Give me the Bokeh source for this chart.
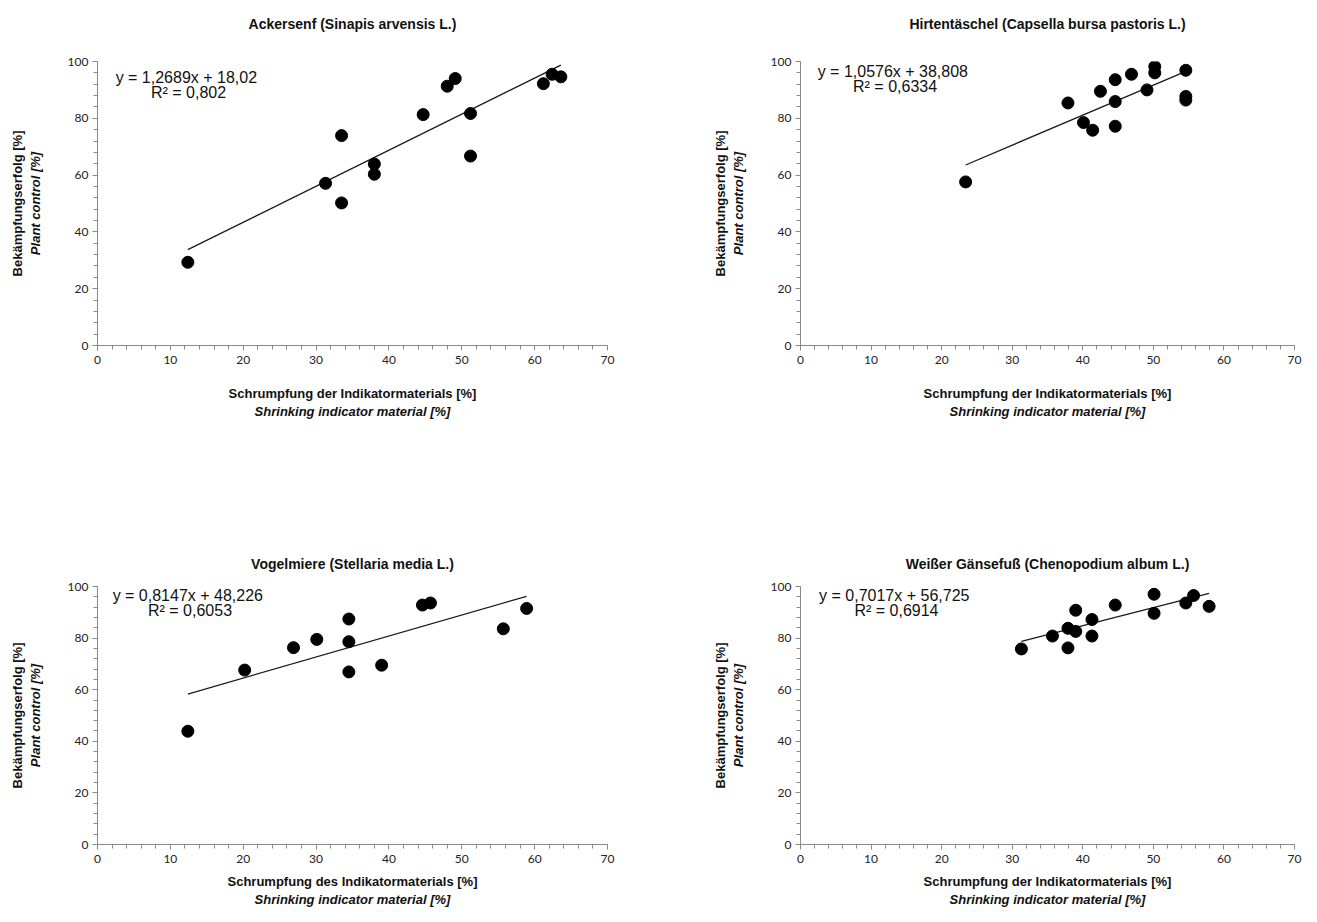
from bokeh.plotting import figure
from bokeh.models import Range1d, LinearAxis, SingleIntervalTicker, FixedTicker, ColumnDataSource
from bokeh.layouts import gridplot
from bokeh.embed import file_html
from bokeh.resources import INLINE
from bokeh.core.properties import value

# ---------------- data ----------------
titles = [
    "Ackersenf (Sinapis arvensis L.)",
    "Hirtentäschel (Capsella bursa pastoris L.)",
    "Vogelmiere (Stellaria media L.)",
    "Weißer Gänsefuß (Chenopodium album L.)",
]

x_ackersenf = [12.4, 31.3, 33.5, 33.5, 38.0, 38.0, 44.7, 48.0, 49.1, 51.2, 51.2, 61.2, 62.4, 63.6]
y_ackersenf = [29.3, 57.1, 73.9, 50.2, 63.9, 60.3, 81.3, 91.3, 94.0, 81.7, 66.7, 92.2, 95.5, 94.6]

x_hirtentaeschel = [23.4, 37.9, 40.1, 41.4, 42.5, 44.6, 44.6, 44.6, 46.9, 49.1, 50.2, 50.2, 54.6, 54.6, 54.6]
y_hirtentaeschel = [57.6, 85.4, 78.5, 75.8, 89.5, 93.6, 85.9, 77.2, 95.5, 90.0, 98.2, 96.0, 96.9, 87.7, 86.4]

x_vogelmiere = [12.4, 20.2, 26.9, 30.1, 34.5, 34.5, 34.5, 39.0, 44.6, 45.7, 55.7, 58.9]
y_vogelmiere = [43.9, 67.6, 76.3, 79.5, 87.4, 78.6, 66.9, 69.5, 92.8, 93.6, 83.6, 91.5]

x_gaensefuss = [31.3, 35.7, 37.9, 37.9, 39.0, 39.0, 41.3, 41.3, 44.6, 50.1, 50.1, 54.6, 55.7, 57.9]
y_gaensefuss = [75.8, 80.8, 76.2, 83.8, 90.8, 82.6, 87.2, 80.8, 92.8, 89.6, 97.0, 93.6, 96.5, 92.3]

slopes = [1.2689, 1.0576, 0.8147, 0.7017]
intercepts = [18.02, 38.808, 48.226, 56.725]
equations = ["y = 1,2689x  + 18,02", "y = 1,0576x  + 38,808", "y = 0,8147x  + 48,226", "y = 0,7017x  + 56,725"]
r_squared = ["R² = 0,802", "R² = 0,6334", "R² = 0,6053", "R² = 0,6914"]

x_titles = [
    "Schrumpfung der Indikatormaterials [%]",
    "Schrumpfung der Indikatormaterials [%]",
    "Schrumpfung des Indikatormaterials [%]",
    "Schrumpfung der Indikatormaterials [%]",
]
x_title_en = "Shrinking indicator material [%]"
y_title_de = "Bekämpfungserfolg [%]"
y_title_en = "Plant control [%]"

series = [
    (x_ackersenf, y_ackersenf),
    (x_hirtentaeschel, y_hirtentaeschel),
    (x_vogelmiere, y_vogelmiere),
    (x_gaensefuss, y_gaensefuss),
]

# ---------------- styling / layout ----------------
AX = "#8a8a8a"
FONT = "Liberation Sans"
TICKFONT = "Lato"

# per panel: frame_w, frame_h, left, right, top, bottom, title standoff,
#            x-title standoff, eq x-centre (data), eq line offsets from frame top (px)
layout = [
    (510, 284, 97, 89, 61, 186, 30, 19, 12.5, 16, 31),
    (494, 284, 104, 8, 61, 186, 30, 19, 13.4, 10, 25),
    (510, 258, 97, 89, 55, 64, 15, 8, 12.7, 9, 24),
    (494, 258, 104, 8, 55, 64, 15, 8, 13.6, 9, 24),
]


def hidden_axis(label, style, standoff, size="13px"):
    return LinearAxis(ticker=FixedTicker(ticks=[]), axis_label=label,
                      axis_line_color=None, major_tick_out=0, major_tick_in=0,
                      minor_tick_out=0, minor_tick_in=0, axis_label_standoff=standoff,
                      major_label_text_font_size="0px",
                      axis_label_text_font=FONT, axis_label_text_font_size=size,
                      axis_label_text_font_style=style, axis_label_text_color="#111111")


def style_axis(ax, ticker, label, style, standoff):
    ax.ticker = ticker
    ax.axis_line_color = AX
    ax.major_tick_line_color = AX
    ax.minor_tick_line_color = AX
    ax.major_tick_out = 5
    ax.major_tick_in = 0
    ax.minor_tick_out = 4
    ax.minor_tick_in = 0
    ax.major_label_text_font = TICKFONT
    ax.major_label_text_font_size = "12px"
    ax.major_label_text_color = "#222222"
    ax.axis_label = label
    ax.axis_label_text_font = FONT
    ax.axis_label_text_font_size = "13px"
    ax.axis_label_text_font_style = style
    ax.axis_label_text_color = "#111111"
    ax.axis_label_standoff = standoff


def make_panel(i):
    fw, fh, bl, br, bt, bb, tst, xst, ex, o1, o2 = layout[i]
    xs, ys = series[i]
    p = figure(frame_width=fw, frame_height=fh, output_backend="svg", toolbar_location=None,
               title=None, x_range=Range1d(0, 70), y_range=Range1d(0, 100),
               min_border_left=bl, min_border_right=br, min_border_top=bt,
               min_border_bottom=bb)
    p.outline_line_color = None
    p.xgrid.visible = False
    p.ygrid.visible = False
    p.background_fill_color = "white"
    p.border_fill_color = "white"

    xa = p.below[0]
    ya = p.left[0]

    style_axis(xa, SingleIntervalTicker(interval=10, num_minor_ticks=5), x_titles[i], "bold", xst)
    xa.major_label_standoff = 5
    style_axis(ya, SingleIntervalTicker(interval=20, num_minor_ticks=5), y_title_en, "bold italic", 22)
    ya.major_label_standoff = 4

    p.add_layout(hidden_axis(x_title_en, "bold italic", 0), "below")
    p.add_layout(hidden_axis(y_title_de, "bold", 0), "left")
    # chart title drawn as the label of an empty axis above the frame
    p.add_layout(hidden_axis(titles[i], "bold", tst, "14px"), "above")

    # trend line
    x0, x1 = min(xs), max(xs)
    p.line([x0, x1], [slopes[i] * x0 + intercepts[i], slopes[i] * x1 + intercepts[i]],
           line_color="#1a1a1a", line_width=1.3)

    # points
    src = ColumnDataSource(dict(x=xs, y=ys))
    p.scatter("x", "y", source=src, size=12, fill_color="black", line_color="black")

    # equation text (offsets measured in px from frame top)
    py = 100.0 / fh
    p.text(x=[ex, ex], y=[100 - o1 * py, 100 - o2 * py], text=[equations[i], r_squared[i]],
           text_align="center", text_baseline="middle",
           text_font=value(FONT), text_font_size="16px", text_color="#111111")
    return p


panels = [make_panel(i) for i in range(4)]
grid = gridplot([[panels[0], panels[1]], [panels[2], panels[3]]], toolbar_location=None)

open("out.html", "w").write(file_html(grid, INLINE))
